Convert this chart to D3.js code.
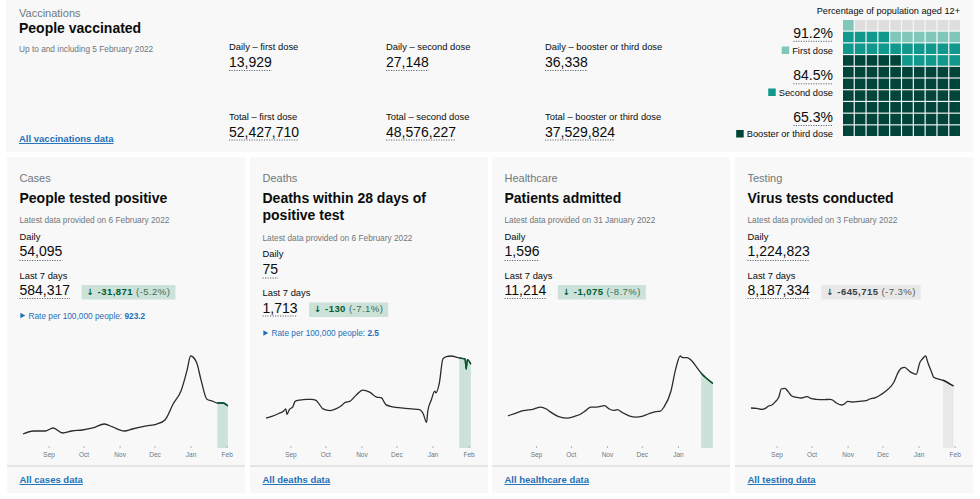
<!DOCTYPE html>
<html>
<head>
<meta charset="utf-8">
<script src="https://cdn.jsdelivr.net/npm/d3@7"></script>
<style>
  body { margin: 0; background: #fff; }
  svg { display: block; font-family: "Liberation Sans", Arial, sans-serif; }
</style>
</head>
<body>
<div id="chart"></div>
<script>
const width = 980, height = 499;

// ---- vaccinations ----
const doseLabels = ["first dose", "second dose", "booster or third dose"];
const dailyDoses = [13929, 27148, 36338];
const totalDoses = [52427710, 48576227, 37529824];
const dosePct = [91.2, 84.5, 65.3];
const doseLegend = ["First dose", "Second dose", "Booster or third dose"];

// ---- headline cards ----
const cardNames = ["Cases", "Deaths", "Healthcare", "Testing"];
const cardTitles = [["People tested positive"], ["Deaths within 28 days of", "positive test"], ["Patients admitted"], ["Virus tests conducted"]];
const cardUpdated = ["6 February 2022", "6 February 2022", "31 January 2022", "3 February 2022"];
const cardDaily = [54095, 75, 1596, 1224823];
const cardWeek = [584317, 1713, 11214, 8187334];
const cardChange = [-31871, -130, -1075, -645715];
const cardChangePct = [-5.2, -7.1, -8.7, -7.3];
const cardRate = [923.2, 2.5, null, null];
const cardLinks = ["All cases data", "All deaths data", "All healthcare data", "All testing data"];
const chartStart = ["2021-08-10", "2021-08-11", "2021-08-08", "2021-08-10"];
const chartEnd = ["2022-02-03", "2022-02-04", "2022-02-01", "2022-02-03"];
const highlightFrom = ["2022-01-24", "2022-01-24", "2022-01-21", "2022-01-22"];
const monthTicks = ["2021-09-01", "2021-10-01", "2021-11-01", "2021-12-01", "2022-01-01", "2022-02-01"];

// 7-day averages
const casesDates = ["2021-08-10","2021-08-19","2021-08-29","2021-09-05","2021-09-13","2021-09-21","2021-09-30","2021-10-09","2021-10-19","2021-10-26","2021-11-05","2021-11-12","2021-11-24","2021-12-03","2021-12-10","2021-12-17","2021-12-24","2021-12-29","2022-01-01","2022-01-06","2022-01-10","2022-01-15","2022-01-20","2022-01-24","2022-01-29","2022-02-02"];
const casesValues = [27800,33800,33800,39800,29800,33800,35800,39800,47700,41800,33800,37800,43800,47700,55700,87500,115000,155000,183000,171000,135000,97000,93000,89500,89500,83500];

const deathsDates = ["2021-08-11","2021-08-16","2021-08-22","2021-08-26","2021-08-28","2021-08-29","2021-08-31","2021-09-03","2021-09-05","2021-09-09","2021-09-15","2021-09-19","2021-09-23","2021-09-26","2021-09-29","2021-10-05","2021-10-10","2021-10-15","2021-10-18","2021-10-22","2021-10-28","2021-11-02","2021-11-08","2021-11-14","2021-11-18","2021-11-22","2021-11-28","2021-12-05","2021-12-14","2021-12-21","2021-12-24","2021-12-27","2021-12-28","2021-12-31","2022-01-03","2022-01-04","2022-01-07","2022-01-10","2022-01-13","2022-01-17","2022-01-23","2022-01-29","2022-01-30","2022-01-31","2022-02-03"];
const deathsValues = [91,96,105,112,119,102,117,125,142,146,148,148,145,132,119,114,119,129,139,142,163,176,170,155,153,132,125,122,119,117,105,78,112,146,173,168,199,271,278,280,275,271,240,269,255];

const admissionsDates = ["2021-08-08","2021-08-15","2021-08-21","2021-08-30","2021-09-05","2021-09-10","2021-09-14","2021-09-20","2021-09-27","2021-10-04","2021-10-10","2021-10-14","2021-10-18","2021-10-23","2021-10-30","2021-11-03","2021-11-07","2021-11-10","2021-11-14","2021-11-20","2021-11-26","2021-12-01","2021-12-07","2021-12-13","2021-12-17","2021-12-20","2021-12-26","2021-12-30","2022-01-03","2022-01-05","2022-01-09","2022-01-13","2022-01-18","2022-01-22","2022-01-26","2022-01-31"];
const admissionsValues = [834,904,965,1008,1060,1008,921,817,774,817,886,973,1060,1060,1095,1008,973,991,921,834,800,817,886,939,956,1060,1468,2033,2380,2338,2338,2250,2052,1903,1791,1669];

const testsDates = ["2021-08-10","2021-08-15","2021-08-19","2021-08-22","2021-08-25","2021-08-28","2021-08-31","2021-09-03","2021-09-05","2021-09-08","2021-09-11","2021-09-14","2021-09-18","2021-09-22","2021-09-27","2021-10-01","2021-10-05","2021-10-11","2021-10-17","2021-10-19","2021-10-22","2021-10-27","2021-10-30","2021-11-01","2021-11-05","2021-11-11","2021-11-17","2021-11-20","2021-11-25","2021-11-30","2021-12-04","2021-12-08","2021-12-11","2021-12-14","2021-12-17","2021-12-20","2021-12-23","2021-12-26","2021-12-30","2022-01-02","2022-01-04","2022-01-07","2022-01-09","2022-01-12","2022-01-14","2022-01-19","2022-01-23","2022-01-27","2022-01-31"];
const testsValues = [783000,777000,757000,770000,822000,841000,906000,1004000,1154000,1168000,1102000,1017000,992000,978000,1004000,965000,952000,945000,952000,939000,886000,841000,874000,913000,900000,913000,926000,959000,985000,1050000,1115000,1200000,1297000,1461000,1559000,1579000,1526000,1474000,1441000,1669000,1735000,1800000,1669000,1494000,1383000,1344000,1317000,1265000,1213000];

const parse = d3.timeParse("%Y-%m-%d");
const fmt = d3.format(",");
const signed = v => (v < 0 ? "-" : "") + fmt(Math.abs(v));

const ink = "#0b0c0c", grey = "#6f777b", blue = "#1d70b8", cardBg = "#f8f8f8";
const doseColors = ["#80c7ba", "#10988c", "#00443a"];

const svg = d3.select("#chart")
  .append("svg")
  .attr("width", width)
  .attr("height", height);

function label(g, x, y, str, size, fill, weight) {
  return g.append("text")
    .attr("x", x).attr("y", y)
    .attr("font-size", size)
    .attr("fill", fill || ink)
    .attr("font-weight", weight || "normal")
    .text(str);
}

function dotted(g, textSel, x, y, anchorEnd) {
  const w = textSel.node().getComputedTextLength();
  const x0 = anchorEnd ? x - w : x;
  g.append("line")
    .attr("x1", x0).attr("x2", x0 + w)
    .attr("y1", y).attr("y2", y)
    .attr("stroke", "#505a5f")
    .attr("stroke-width", 0.9)
    .attr("stroke-dasharray", "1.2,1.3");
  return w;
}

// ================= vaccinations card =================
const vac = svg.append("g");
vac.append("rect").attr("x", 6).attr("y", 0).attr("width", 967).attr("height", 152).attr("fill", cardBg);
label(vac, 19, 16.5, "Vaccinations", 11, grey);
label(vac, 19, 33, "People vaccinated", 14, ink, "bold");
label(vac, 19, 52, "Up to and including 5 February 2022", 8.3, grey);
label(vac, 19, 142, "All vaccinations data", 9.5, blue, "bold").attr("text-decoration", "underline");

const colX = [229, 386, 545];
doseLabels.forEach((d, i) => {
  label(vac, colX[i], 49.5, "Daily \u2013 " + d, 9.4);
  const n1 = label(vac, colX[i], 66.5, fmt(dailyDoses[i]), 14);
  dotted(vac, n1, colX[i], 70.5);
  label(vac, colX[i], 120, "Total \u2013 " + d, 9.4);
  const n2 = label(vac, colX[i], 136.5, fmt(totalDoses[i]), 14);
  dotted(vac, n2, colX[i], 140);
});

// waffle
const wx = d3.scaleBand().domain(d3.range(10)).range([843, 960]).paddingInner(0.1);
const wy = d3.scaleBand().domain(d3.range(10)).range([20, 136]).paddingInner(0.1);
const cutoffs = dosePct.map(Math.floor); // first, second, third
const cellColor = i => i < cutoffs[2] ? doseColors[2] : i < cutoffs[1] ? doseColors[1] : i < cutoffs[0] ? doseColors[0] : "#dedede";

vac.append("g").selectAll("rect")
  .data(d3.range(100))
  .join("rect")
  .attr("x", i => wx(i % 10))
  .attr("y", i => wy(9 - Math.floor(i / 10)))
  .attr("width", wx.bandwidth())
  .attr("height", wy.bandwidth())
  .attr("fill", cellColor);

label(vac, 960, 13.5, "Percentage of population aged 12+", 9.2).attr("text-anchor", "end");

const pctY = [37.5, 80, 121.7], legY = [53.5, 95.5, 137];
dosePct.forEach((p, i) => {
  const t = label(vac, 833, pctY[i], p.toFixed(1) + "%", 14).attr("text-anchor", "end");
  dotted(vac, t, 833, pctY[i] + 3.8, true);
  const lt = label(vac, 833, legY[i], doseLegend[i], 9.3).attr("text-anchor", "end");
  const lw = lt.node().getComputedTextLength();
  vac.append("rect")
    .attr("x", 833 - lw - 10.5).attr("y", legY[i] - 7)
    .attr("width", 7.5).attr("height", 7.5)
    .attr("fill", doseColors[i]);
});

// ================= headline cards =================
const cardX = [7, 250, 492, 735], cardW = 238;
const series = [
  [casesDates, casesValues],
  [deathsDates, deathsValues],
  [admissionsDates, admissionsValues],
  [testsDates, testsValues]
].map(([ds, vs]) => ds.map((d, i) => ({date: parse(d), value: vs[i]})));

const fillColors = ["#cce2d8", "#cce2d8", "#cce2d8", "#e8e8e8"];
const hlLine = ["#005a30", "#005a30", "#005a30", "#2b2b2b"];
const badgeBg = ["#cce2d8", "#cce2d8", "#cce2d8", "#e8e8e8"];
const badgeInk = ["#005a30", "#005a30", "#005a30", "#383f43"];

cardNames.forEach((name, i) => {
  const cx = cardX[i], tx = cx + 12.5;
  const g = svg.append("g");
  g.append("rect").attr("x", cx).attr("y", 157).attr("width", cardW).attr("height", 336).attr("fill", cardBg);

  label(g, tx, 181.5, name, 11, grey);
  cardTitles[i].forEach((line, k) => label(g, tx, 202.5 + k * 17.5, line, 14, ink, "bold"));
  const base = 202.5 + (cardTitles[i].length - 1) * 17.5 + 20.5;

  label(g, tx, base, "Latest data provided on " + cardUpdated[i], 8.3, grey);
  label(g, tx, base + 16.5, "Daily", 9.4);
  const dn = label(g, tx, base + 33, fmt(cardDaily[i]), 14);
  dotted(g, dn, tx, base + 37.5);
  label(g, tx, base + 55.5, "Last 7 days", 9.4);
  const wn = label(g, tx, base + 72, fmt(cardWeek[i]), 14);
  const ww = dotted(g, wn, tx, base + 75.5);

  // change badge
  const bx = tx + ww + 11.5, by = base + 72;
  const badge = g.append("g");
  const bt = badge.append("text")
    .attr("x", bx + 5).attr("y", by - 0.5)
    .attr("font-size", 9.5)
    .attr("letter-spacing", 0.45)
    .attr("fill", badgeInk[i]);
  bt.append("tspan")
    .attr("font-family", "DejaVu Sans")
    .attr("font-weight", "bold")
    .attr("font-size", 8.5)
    .text("\u2193 ");
  bt.append("tspan").attr("font-weight", "bold").text(signed(cardChange[i]));
  bt.append("tspan").attr("fill", i < 3 ? "#3c6e55" : "#505a5f").text(" (" + cardChangePct[i].toFixed(1) + "%)");
  const bw = bt.node().getComputedTextLength();
  badge.insert("rect", "text")
    .attr("x", bx).attr("y", by - 10)
    .attr("width", bw + 10).attr("height", 14.5)
    .attr("fill", badgeBg[i]);

  if (cardRate[i] !== null) {
    const ry = base + 95.5;
    g.append("path")
      .attr("d", d3.symbol(d3.symbolTriangle, 14)())
      .attr("transform", `translate(${tx + 2.5},${ry - 3}) rotate(90)`)
      .attr("fill", blue);
    const rt = label(g, tx + 9, ry, "Rate per 100,000 people: ", 8.3, blue);
    rt.append("tspan").attr("font-weight", "bold").text(cardRate[i]);
  }

  // sparkline
  const data = series[i];
  const x = d3.scaleTime()
    .domain([parse(chartStart[i]), parse(chartEnd[i])])
    .range([cx + 16, cx + 222]);
  const y = d3.scaleLinear()
    .domain([0, d3.max(data, d => d.value)])
    .range([448, 356]);

  const line = d3.line().x(d => x(d.date)).y(d => y(d.value)).curve(d3.curveMonotoneX);
  const area = d3.area().x(d => x(d.date)).y0(y(0)).y1(d => y(d.value)).curve(d3.curveMonotoneX);

  const clipId = "hl" + i;
  g.append("clipPath").attr("id", clipId)
    .append("rect")
    .attr("x", x(parse(highlightFrom[i]))).attr("y", 340)
    .attr("width", x.range()[1] - x(parse(highlightFrom[i]))).attr("height", 120);

  g.append("path").datum(data)
    .attr("clip-path", `url(#${clipId})`)
    .attr("fill", fillColors[i])
    .attr("d", area);

  g.append("path").datum(data)
    .attr("fill", "none")
    .attr("stroke", "#2b2b2b")
    .attr("stroke-width", 1.3)
    .attr("d", line);

  g.append("path").datum(data)
    .attr("clip-path", `url(#${clipId})`)
    .attr("fill", "none")
    .attr("stroke", hlLine[i])
    .attr("stroke-width", 1.3)
    .attr("d", line);

  const end = parse(chartEnd[i]);
  const ticks = monthTicks.map(parse).filter(t => t < end);
  g.append("g")
    .attr("transform", "translate(0,446)")
    .call(d3.axisBottom(x).tickValues(ticks).tickFormat(d3.timeFormat("%b")).tickSize(2).tickPadding(4))
    .call(a => a.attr("font-family", null))
    .call(a => a.select(".domain").remove())
    .call(a => a.selectAll("line").attr("stroke", "#b1b4b6"))
    .call(a => a.selectAll("text").attr("fill", grey).attr("font-size", 6.5));

  // footer
  g.append("rect").attr("x", cx).attr("y", 465).attr("width", cardW).attr("height", 2).attr("fill", "#e4e4e4");
  label(g, tx, 483, cardLinks[i], 9.5, blue, "bold").attr("text-decoration", "underline");
});
</script>
</body>
</html>
